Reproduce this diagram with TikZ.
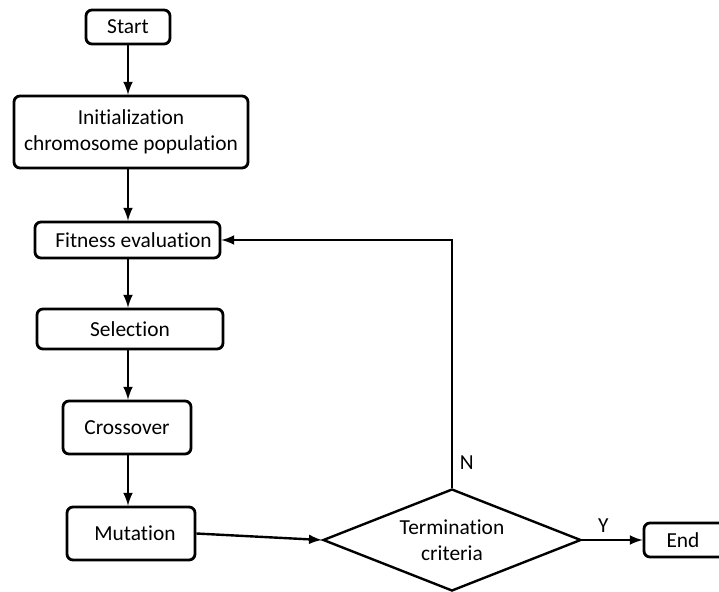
\documentclass[tikz,border=0pt]{standalone}
\usepackage{fontspec}
\setmainfont{Carlito}[Ligatures=NoCommon]
\usetikzlibrary{arrows,shapes.geometric}
\tikzset{box/.style={draw,line width=1.4pt,rounded corners=3pt,align=center,inner sep=0pt},
         line/.style={line width=1.2pt,-latex}}

\begin{document}
\begin{tikzpicture}[x=0.5pt,y=-0.5pt,font=\fontsize{10.7}{13}\selectfont]
      \clip (0,0) rectangle (719,591);

      \node[box,minimum width=42pt,minimum height=17pt] (start) at (128,27) {Start};
      \node[box,minimum width=117pt,minimum height=36pt] (init) at (131,132)
           {Initialization\\chromosome population};
      \node[box,minimum width=92.5pt,minimum height=18pt] (fit) at (127.5,240) {\hspace{6pt}Fitness evaluation};
      \node[box,minimum width=93pt,minimum height=20pt] (sel) at (130,329) {Selection};
      \node[box,minimum width=64pt,minimum height=26.5pt] (cross) at (127,427.5) {Crossover};
      \node[box,minimum width=64pt,minimum height=26.5pt] (mut) at (131,533.5) {\hspace{4pt}Mutation};

      \node[draw,diamond,line width=1.2pt,inner sep=0pt,minimum width=129pt,minimum height=51pt]
           (dec) at (452,540)
           {\smash{\makebox[0pt]{\raisebox{-4pt}{\begin{tabular}{c}Termination\\criteria\end{tabular}}}}};

      \node[box,minimum width=43pt,minimum height=17pt] (end) at (687,540) {\hspace{-4pt}End};

      % main chain
      \draw[line] (start.south) -- (start.south |- init.north);
      \draw[line] (start.south |- init.south) -- (start.south |- fit.north);
      \draw[line] (start.south |- fit.south) -- (start.south |- sel.north);
      \draw[line] (start.south |- sel.south) -- (start.south |- cross.north);
      \draw[line] (start.south |- cross.south) -- (start.south |- mut.north);

      \draw[line] (mut.east) -- (dec.west);
      \draw[line] (dec.east) -- node[pos=0.35,above] {Y} (end.west);

      % back to fitness
      \draw[line] (dec.north) |- node[pos=0.05,right] {N} (fit.east);
    \end{tikzpicture}
\end{document}
